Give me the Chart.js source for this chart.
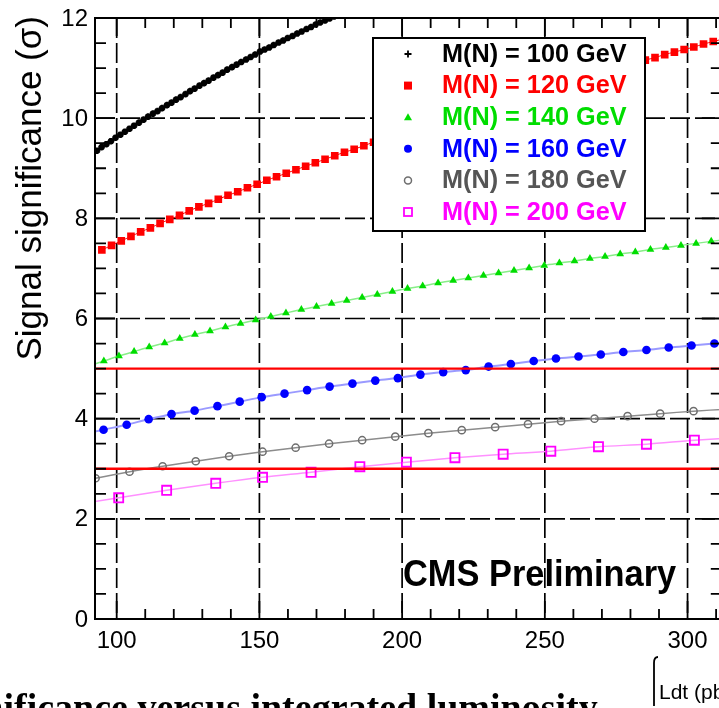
<!DOCTYPE html>
<html>
<head>
<meta charset="utf-8">
<title>Signal significance vs integrated luminosity</title>
<style>
  html, body { margin: 0; padding: 0; background: #ffffff; overflow: hidden; }
  #wrap { width: 730px; height: 708px; }
  canvas { display: block; }
</style>
<script src="https://cdn.jsdelivr.net/npm/chart.js@4/dist/chart.umd.min.js"></script>
</head>
<body>
<div id="wrap"><canvas id="chart" width="730" height="708"></canvas></div>
<script>
// Integrated luminosity (pb^-1) and expected significance (sigma) per heavy-neutrino mass
const lumi100 = [93.1, 94.7, 96.4, 98.0, 99.6, 101.3, 102.9, 104.5, 106.1, 107.8, 109.4, 111.0, 112.7, 114.3, 115.9, 117.6, 119.2, 120.8, 122.4, 124.1, 125.7, 127.3, 129.0, 130.6, 132.2, 133.9, 135.5, 137.1, 138.7, 140.4, 142.0, 143.6, 145.3, 146.9, 148.5, 150.2, 151.8, 153.4, 155.0, 156.7, 158.3, 159.9, 161.6, 163.2, 164.8, 166.5, 168.1, 169.7, 171.3, 173.0, 174.6, 176.2];
const sig100  = [9.35, 9.42, 9.48, 9.54, 9.61, 9.67, 9.73, 9.79, 9.85, 9.91, 9.97, 10.03, 10.09, 10.14, 10.20, 10.26, 10.31, 10.37, 10.42, 10.48, 10.54, 10.59, 10.65, 10.70, 10.75, 10.81, 10.86, 10.91, 10.97, 11.02, 11.07, 11.12, 11.17, 11.22, 11.27, 11.33, 11.37, 11.41, 11.46, 11.51, 11.55, 11.60, 11.64, 11.69, 11.73, 11.78, 11.82, 11.87, 11.91, 11.95, 11.99, 12.03];

const lumi120 = [94.8, 98.2, 101.6, 105.0, 108.4, 111.8, 115.2, 118.6, 122.0, 125.4, 128.8, 132.2, 135.6, 139.0, 142.4, 145.8, 149.2, 152.6, 156.0, 159.4, 162.8, 166.2, 169.6, 173.0, 176.4, 179.8, 183.2, 186.6, 190.0, 193.4, 196.8, 200.2, 203.6, 207.0, 210.4, 213.8, 217.2, 220.6, 224.0, 227.4, 230.8, 234.2, 237.6, 241.0, 244.4, 247.8, 251.2, 254.6, 258.0, 261.4, 264.8, 268.2, 271.6, 275.0, 278.4, 281.8, 285.2, 288.6, 292.0, 295.4, 298.8, 302.2, 305.6, 309.0, 312.4];
const sig120  = [7.37, 7.46, 7.55, 7.64, 7.73, 7.81, 7.90, 7.98, 8.06, 8.15, 8.23, 8.30, 8.38, 8.46, 8.53, 8.61, 8.68, 8.76, 8.83, 8.90, 8.97, 9.04, 9.11, 9.18, 9.25, 9.32, 9.38, 9.45, 9.52, 9.58, 9.65, 9.71, 9.77, 9.84, 9.90, 9.96, 10.02, 10.08, 10.14, 10.20, 10.26, 10.32, 10.38, 10.44, 10.50, 10.55, 10.61, 10.67, 10.72, 10.78, 10.83, 10.89, 10.94, 11.00, 11.05, 11.11, 11.16, 11.21, 11.27, 11.32, 11.37, 11.42, 11.48, 11.53, 11.58];

const lumi140 = [90.2, 95.5, 100.8, 106.1, 111.4, 116.8, 122.1, 127.4, 132.7, 138.1, 143.4, 148.7, 154.0, 159.3, 164.7, 170.0, 175.3, 180.6, 186.0, 191.3, 196.6, 201.9, 207.2, 212.6, 217.9, 223.2, 228.5, 233.8, 239.2, 244.5, 249.8, 255.1, 260.4, 265.8, 271.1, 276.4, 281.7, 287.0, 292.4, 297.7, 303.0, 308.3, 313.6];
const sig140  = [5.05, 5.15, 5.25, 5.34, 5.43, 5.51, 5.60, 5.68, 5.75, 5.83, 5.90, 5.97, 6.04, 6.11, 6.18, 6.24, 6.30, 6.36, 6.42, 6.48, 6.54, 6.60, 6.65, 6.71, 6.76, 6.81, 6.86, 6.91, 6.96, 7.01, 7.06, 7.11, 7.15, 7.20, 7.24, 7.29, 7.33, 7.38, 7.42, 7.46, 7.50, 7.54, 7.58];

const lumi160 = [87.5, 95.4, 103.5, 111.2, 119.2, 127.3, 135.3, 143.1, 150.8, 158.8, 166.7, 174.6, 182.6, 190.6, 198.5, 206.4, 214.4, 222.3, 230.3, 238.1, 246.1, 253.9, 261.8, 269.6, 277.5, 285.6, 293.4, 301.4, 309.4, 317.3];
const sig160  = [3.68, 3.78, 3.88, 3.99, 4.09, 4.16, 4.25, 4.34, 4.43, 4.50, 4.57, 4.64, 4.70, 4.76, 4.81, 4.88, 4.93, 4.97, 5.04, 5.09, 5.15, 5.20, 5.24, 5.28, 5.33, 5.37, 5.42, 5.46, 5.50, 5.54];

const lumi180 = [81.0, 92.6, 104.5, 116.1, 127.7, 139.4, 151.1, 162.7, 174.4, 186.0, 197.6, 209.2, 220.9, 232.6, 244.1, 255.7, 267.4, 279.0, 290.4, 302.1, 313.7];
const sig180  = [2.67, 2.81, 2.94, 3.05, 3.15, 3.25, 3.34, 3.42, 3.50, 3.57, 3.64, 3.71, 3.77, 3.83, 3.89, 3.95, 4.00, 4.05, 4.10, 4.15, 4.19];

const lumi200 = [83.9, 100.7, 117.5, 134.7, 151.1, 168.1, 185.2, 201.5, 218.5, 235.4, 252.1, 268.8, 285.6, 302.4, 319.2];
const sig200  = [2.27, 2.42, 2.57, 2.71, 2.83, 2.93, 3.04, 3.13, 3.22, 3.29, 3.35, 3.44, 3.49, 3.57, 3.63];

// Discovery (5 sigma) and evidence (3 sigma) reference levels
const thresholds = [5, 3];

// Axis ranges and tick labels
const xRange = [92.4, 312];
const yRange = [0, 12];
const xTickLabels = [100, 150, 200, 250, 300];
const yTickLabels = [0, 2, 4, 6, 8, 10, 12];

const massLabels = ['M(N) = 100 GeV', 'M(N) = 120 GeV', 'M(N) = 140 GeV', 'M(N) = 160 GeV', 'M(N) = 180 GeV', 'M(N) = 200 GeV'];

const pts = (xs, ys) => xs.map((x, i) => ({ x: x, y: ys[i] }));

const HELV = '"Liberation Sans", Arial, Helvetica, sans-serif';

const seriesStyle = [
  { text: '#000000', mark: 'star' },
  { text: '#ff0000', mark: 'rect' },
  { text: '#00dd00', mark: 'tri' },
  { text: '#0000ff', mark: 'dot' },
  { text: '#555555', mark: 'ring' },
  { text: '#ff00ff', mark: 'box' }
];

function drawMarker(ctx, kind, cx, cy) {
  ctx.save();
  ctx.setLineDash([]);
  switch (kind) {
    case 'star':
      ctx.strokeStyle = '#000'; ctx.lineWidth = 1.8;
      ctx.beginPath();
      ctx.moveTo(cx - 3.5, cy); ctx.lineTo(cx + 3.5, cy);
      ctx.moveTo(cx, cy - 3.5); ctx.lineTo(cx, cy + 3.5);
      ctx.stroke();
      break;
    case 'rect':
      ctx.fillStyle = '#ff0000'; ctx.fillRect(cx - 4, cy - 4, 8, 8);
      break;
    case 'tri':
      ctx.fillStyle = '#00dd00';
      ctx.beginPath(); ctx.moveTo(cx, cy - 4); ctx.lineTo(cx + 4, cy + 3); ctx.lineTo(cx - 4, cy + 3); ctx.closePath(); ctx.fill();
      break;
    case 'dot':
      ctx.fillStyle = '#0000ff'; ctx.beginPath(); ctx.arc(cx, cy, 4, 0, Math.PI * 2); ctx.fill();
      break;
    case 'ring':
      ctx.strokeStyle = '#6e6e6e'; ctx.lineWidth = 1.5; ctx.beginPath(); ctx.arc(cx, cy, 3.5, 0, Math.PI * 2); ctx.stroke();
      break;
    case 'box':
      ctx.strokeStyle = '#ff00ff'; ctx.lineWidth = 1.8; ctx.strokeRect(cx - 4, cy - 4, 8, 8);
      break;
  }
  ctx.restore();
}

const decorations = {
  id: 'decorations',
  beforeDatasetsDraw(chart) {
    const { ctx, chartArea: a, scales: { x, y } } = chart;
    ctx.save();
    ctx.beginPath(); ctx.rect(a.left, a.top, a.right - a.left, a.bottom - a.top); ctx.clip();
    ctx.strokeStyle = '#000'; ctx.lineWidth = 1.7; ctx.setLineDash([20, 5]);
    xTickLabels.forEach(v => {
      const px = x.getPixelForValue(v);
      ctx.beginPath(); ctx.moveTo(px, a.top); ctx.lineTo(px, a.bottom); ctx.stroke();
    });
    yTickLabels.forEach(v => {
      if (v === yRange[0] || v === yRange[1]) return;
      const py = y.getPixelForValue(v);
      ctx.beginPath(); ctx.moveTo(a.left, py); ctx.lineTo(a.right, py); ctx.stroke();
    });
    ctx.restore();
  },
  afterDatasetsDraw(chart) {
    const { ctx, chartArea: a, scales: { x, y } } = chart;
    ctx.save();
    ctx.setLineDash([]);

    // legend box
    const lx = 373, ly = 38, lw = 272, lh = 193;
    ctx.fillStyle = '#fff'; ctx.fillRect(lx, ly, lw, lh);
    ctx.strokeStyle = '#000'; ctx.lineWidth = 2; ctx.strokeRect(lx, ly, lw, lh);
    ctx.font = 'bold 25px ' + HELV; ctx.textAlign = 'left'; ctx.textBaseline = 'middle';
    massLabels.forEach((t, i) => {
      const ry = ly + 16 + i * 31.6;
      drawMarker(ctx, seriesStyle[i].mark, 408, ry);
      ctx.fillStyle = seriesStyle[i].text;
      ctx.save();
      ctx.translate(442, ry + 1);
      ctx.scale(1.01, 1);
      ctx.fillText(t, 0, 0);
      ctx.restore();
    });

    // frame
    ctx.strokeStyle = '#000'; ctx.lineWidth = 2;
    ctx.strokeRect(a.left, a.top, a.right - a.left, a.bottom - a.top);

    // tick marks (inward)
    ctx.lineWidth = 1.8;
    ctx.beginPath();
    for (let v = 0; v <= 12.001; v += 0.5) {
      const py = y.getPixelForValue(v);
      const len = (Math.abs(v % 2) < 1e-6) ? 20 : 11;
      ctx.moveTo(a.left, py); ctx.lineTo(a.left + len, py);
      ctx.moveTo(a.right, py); ctx.lineTo(a.right - len, py);
    }
    for (let v = 100; v <= 310; v += 10) {
      const px = x.getPixelForValue(v);
      const len = (v % 50 === 0) ? 18 : 10;
      ctx.moveTo(px, a.bottom); ctx.lineTo(px, a.bottom - len);
      ctx.moveTo(px, a.top); ctx.lineTo(px, a.top + len);
    }
    ctx.stroke();

    // tick labels
    ctx.fillStyle = '#000';
    ctx.font = '24px ' + HELV;
    ctx.textAlign = 'right'; ctx.textBaseline = 'middle';
    yTickLabels.forEach(v => ctx.fillText(String(v), a.left - 7, y.getPixelForValue(v) + 1));
    ctx.textAlign = 'center'; ctx.textBaseline = 'top';
    xTickLabels.forEach(v => ctx.fillText(String(v), x.getPixelForValue(v), a.bottom + 10));

    // y axis title
    ctx.save();
    ctx.translate(31, a.top - 2);
    ctx.rotate(-Math.PI / 2);
    ctx.font = '35px ' + HELV; ctx.textAlign = 'right'; ctx.textBaseline = 'middle';
    ctx.fillText('Signal significance (\u03c3)', 0, 0);
    ctx.restore();

    // x axis title: integral L dt (pb^-1)
    ctx.strokeStyle = '#000'; ctx.lineWidth = 1.8;
    ctx.beginPath();
    ctx.moveTo(654, 663); ctx.quadraticCurveTo(654, 657, 658, 657);
    ctx.moveTo(654, 663); ctx.lineTo(654, 706);
    ctx.stroke();
    ctx.textAlign = 'left'; ctx.textBaseline = 'alphabetic';
    ctx.font = '21px ' + HELV;
    ctx.fillText('Ldt (pb', 659, 699);
    const w1 = ctx.measureText('Ldt (pb').width;
    ctx.font = '13px ' + HELV;
    ctx.fillText('-1', 659 + w1, 688);
    const w2 = ctx.measureText('-1').width;
    ctx.font = '21px ' + HELV;
    ctx.fillText(')', 659 + w1 + w2, 699);

    // collaboration tag
    ctx.font = 'bold 36px ' + HELV;
    ctx.save();
    ctx.translate(403, 586);
    ctx.scale(0.955, 1);
    ctx.fillText('CMS Preliminary', 0, 0);
    ctx.restore();

    // caption line running below the figure
    ctx.font = 'bold 38px "Liberation Serif", "Times New Roman", serif';
    ctx.fillText('significance versus integrated luminosity', -62, 720);

    ctx.restore();
  }
};

const lineSet = (label, xs, ys, o) => Object.assign({
  label: label, data: pts(xs, ys), showLine: true, clip: 0, tension: 0.3
}, o);

const datasets = [
  ...thresholds.map(t => ({
    label: t + ' sigma', data: [{ x: xRange[0], y: t }, { x: xRange[1], y: t }],
    showLine: true, borderColor: '#ff0000', borderWidth: 2.4, pointRadius: 0, clip: 0
  })),
  lineSet(massLabels[0], lumi100, sig100, { borderColor: '#000', borderWidth: 1.5, pointStyle: 'star', pointRadius: 3.3, pointBorderWidth: 2.2, pointBorderColor: '#000', pointBackgroundColor: '#000' }),
  lineSet(massLabels[1], lumi120, sig120, { borderColor: '#ff0000', borderWidth: 1, pointStyle: 'rect', pointRadius: 5.4, pointBorderWidth: 0, pointBackgroundColor: '#ff0000', pointBorderColor: '#ff0000' }),
  lineSet(massLabels[2], lumi140, sig140, { borderColor: '#88ee88', borderWidth: 1.5, pointStyle: 'triangle', pointRadius: 4.5, pointBorderWidth: 0, pointBackgroundColor: '#00dd00', pointBorderColor: '#00dd00' }),
  lineSet(massLabels[3], lumi160, sig160, { borderColor: '#9a9aff', borderWidth: 2, pointStyle: 'circle', pointRadius: 4.3, pointBorderWidth: 0, pointBackgroundColor: '#0000ff', pointBorderColor: '#0000ff' }),
  lineSet(massLabels[4], lumi180, sig180, { borderColor: '#8c8c8c', borderWidth: 1.5, pointStyle: 'circle', pointRadius: 3.6, pointBorderWidth: 1.5, pointBackgroundColor: 'rgba(255,255,255,0)', pointBorderColor: '#6e6e6e' }),
  lineSet(massLabels[5], lumi200, sig200, { borderColor: '#ff90ff', borderWidth: 1.5, pointStyle: 'rect', pointRadius: 6.4, pointBorderWidth: 1.8, pointBackgroundColor: 'rgba(255,255,255,0)', pointBorderColor: '#ff00ff' })
];

new Chart(document.getElementById('chart'), {
  type: 'scatter',
  data: { datasets: datasets },
  options: {
    responsive: false,
    animation: false,
    devicePixelRatio: 1,
    layout: { padding: { top: 18, right: 7, left: 0, bottom: 0 } },
    plugins: { legend: { display: false }, tooltip: { enabled: false } },
    scales: {
      x: {
        type: 'linear', min: xRange[0], max: xRange[1],
        grid: { display: false }, border: { display: false },
        ticks: { display: false },
        afterFit: s => { s.height = 89; }
      },
      y: {
        type: 'linear', min: yRange[0], max: yRange[1],
        grid: { display: false }, border: { display: false },
        ticks: { display: false },
        afterFit: s => { s.width = 95; }
      }
    }
  },
  plugins: [decorations]
});
</script>
</body>
</html>
